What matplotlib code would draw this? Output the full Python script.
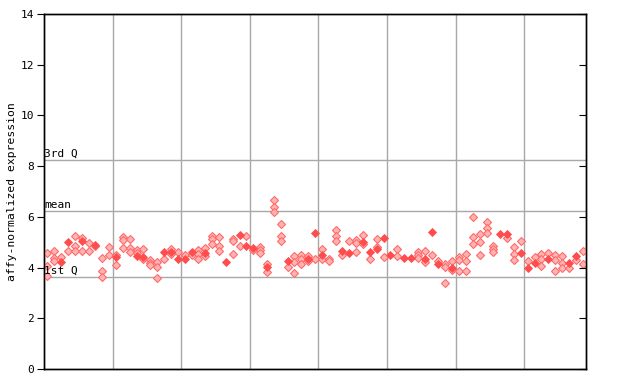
import matplotlib
matplotlib.use("Agg")
import matplotlib.pyplot as plt

# summary lines
q1 = 3.63
mean = 6.23
q3 = 8.24

# filled points: (column, value)
solid_x = [2, 3, 5, 7, 10, 13, 14, 17, 18, 19, 20, 21, 23, 26, 28, 29, 30,
           32, 35, 38, 39, 40, 43, 44, 46, 47, 48, 49, 50, 52, 53, 55, 56,
           57, 59, 66, 67, 69, 70, 71, 73, 76, 77]
solid_y = [4.23, 5.02, 5.06, 4.89, 4.41, 4.45, 4.43, 4.62, 4.62, 4.35, 4.35,
           4.61, 4.58, 4.23, 5.30, 4.87, 4.78, 4.03, 4.24, 4.34, 5.35, 4.51,
           4.66, 4.58, 4.99, 4.62, 4.72, 5.17, 4.49, 4.38, 4.38, 4.32, 5.40,
           4.14, 4.00, 5.31, 5.31, 4.58, 4.00, 4.19, 4.34, 4.19, 4.47]

# light (dotted) points: one list of values per column
light = [
    [4.58, 4.08, 3.67], [4.67, 4.37, 4.27], [4.40], [4.65], [5.24, 4.85, 4.65],
    [5.16, 4.66], [4.95, 4.65], [4.87], [4.36, 3.86, 3.61], [4.80, 4.48],
    [4.49, 4.09], [5.20, 5.09, 4.76], [5.11, 4.76, 4.60], [4.68, 4.58], [4.72, 4.32],
    [4.28, 4.19, 4.09], [4.22, 4.01, 3.59], [4.32], [4.72, 4.53], [4.61],
    [4.48], [4.48], [4.68, 4.53, 4.32], [4.78, 4.45], [5.24, 5.14, 4.93],
    [5.19, 4.85, 4.65], [], [5.11, 5.05, 4.54], [4.87], [5.23],
    [4.69], [4.80, 4.68, 4.57], [4.13, 3.82], [6.65, 6.37, 6.18], [5.72, 5.24, 5.05],
    [4.03], [4.44, 4.22, 3.78], [4.48, 4.35, 4.15], [4.44, 4.24], [4.34],
    [4.72, 4.32], [4.32, 4.27], [5.47, 5.23, 5.03], [4.51], [5.03],
    [5.10, 4.98, 4.60], [5.27, 4.92], [4.32], [5.14, 4.82], [4.40],
    [], [4.72, 4.45], [], [], [4.60, 4.48, 4.36],
    [4.64, 4.23], [4.48], [4.24], [4.16, 4.01, 3.38], [4.26, 3.90],
    [4.43, 4.31, 3.86], [4.53, 4.24, 3.86], [5.99, 5.19, 4.92], [5.31, 4.99, 4.48], [5.78, 5.55, 5.35],
    [4.87, 4.74, 4.61], [], [5.15], [4.80, 4.52, 4.28], [5.03],
    [4.26], [4.40], [4.53, 4.35, 4.05], [4.58], [4.48, 4.30, 3.86],
    [4.44, 4.18, 3.98], [3.98], [4.28], [4.64, 4.16],
]

n_cols = len(light)
light_x = [i for i, vals in enumerate(light) for v in vals]
light_y = [v for vals in light for v in vals]

mono = "DejaVu Sans Mono"
fig = plt.figure(figsize=(6.4, 3.84), dpi=100)
ax = fig.add_axes([44 / 640, 15 / 384, 542 / 640, 355 / 384])

for g in range(10, n_cols, 10):
    ax.axvline(g - 0.5, color="#a8a8a8", lw=1.0, zorder=1)
for v in (q1, mean, q3):
    ax.axhline(v, color="#a8a8a8", lw=1.0, zorder=1)

ax.plot(light_x, light_y, "D", ms=3.6, mfc="#ffb3b3", mec="#ff6a6a", mew=0.8,
        ls="none", zorder=3)
ax.plot(solid_x, solid_y, "D", ms=4.4, mfc="#ff4d4d", mec="#ff4d4d", mew=0.6,
        ls="none", zorder=4)

ax.text(-0.5, q3 + 0.05, "3rd Q", family=mono, fontsize=8, va="bottom", ha="left")
ax.text(-0.5, mean + 0.05, "mean", family=mono, fontsize=8, va="bottom", ha="left")
ax.text(-0.5, q1 + 0.05, "1st Q", family=mono, fontsize=8, va="bottom", ha="left")

ax.set_xlim(-0.5, n_cols - 0.5)
ax.set_ylim(0, 14)
ax.set_yticks(range(0, 15, 2))
ax.set_xticks([])
ax.tick_params(axis="y", direction="out", length=5, labelsize=8, pad=2)
for lab in ax.get_yticklabels():
    lab.set_family(mono)
ax.set_ylabel("affy-normalized expression", family=mono, fontsize=8.2, labelpad=2.5)

ax2 = ax.twinx()
ax2.set_ylim(0, 14)
ax2.set_yticks(range(0, 15, 2))
ax2.tick_params(axis="y", direction="in", length=5, labelright=False)

for a in (ax, ax2):
    for s in a.spines.values():
        s.set_linewidth(1.0)

fig.savefig("out.png", dpi=100)
